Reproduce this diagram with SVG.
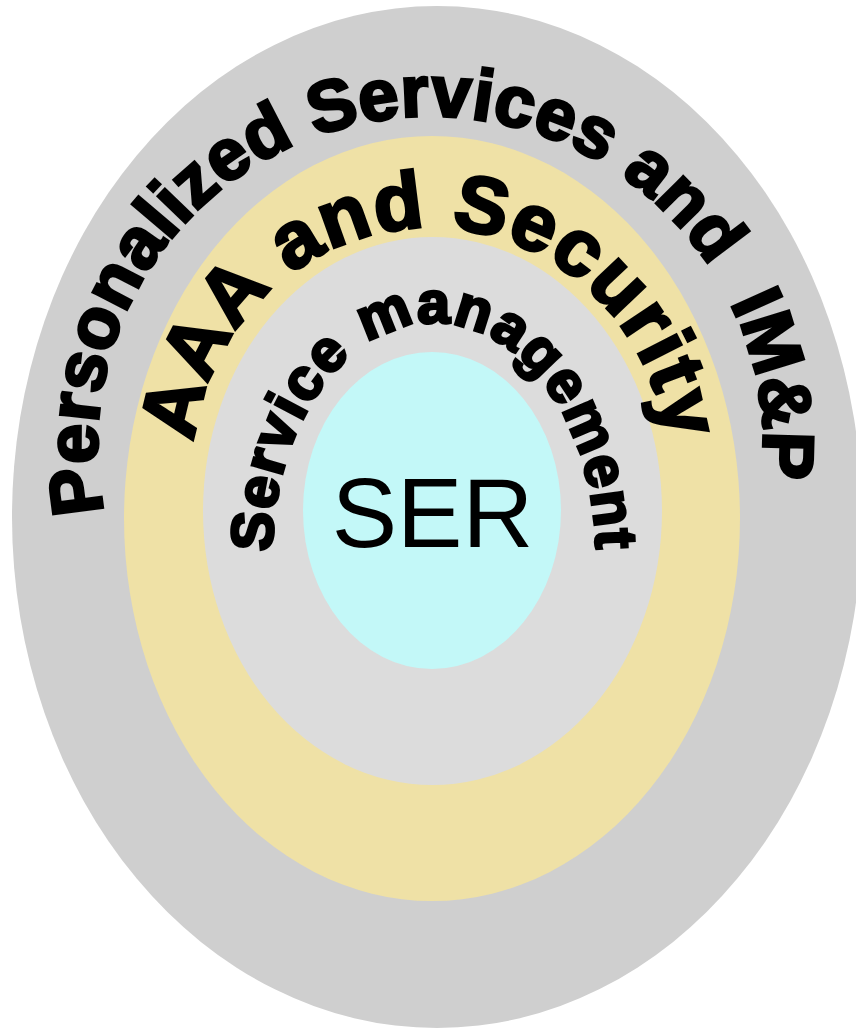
<svg xmlns="http://www.w3.org/2000/svg" xmlns:xlink="http://www.w3.org/1999/xlink" width="856" height="1029" viewBox="0 0 856 1029">
  <style>
    .arc-label { font-family: "Liberation Sans", Arial, sans-serif; font-weight: bold; fill: #000; stroke: #000; stroke-width: 3; stroke-linejoin: miter; }
    .core-label { font-family: "Liberation Sans", Arial, Helvetica, sans-serif; fill: #000; }
  </style>
  <defs>
    <!-- baselines the ring titles run along -->
    <path id="path-outer" d="M 104 512 A 333 330 0 1 1 761 485" fill="none"/>
    <path id="path-aaa" d="M 194 442 A 238 245 0 0 1 666 440" fill="none"/>
    <path id="path-service" d="M 272 552 A 162 232 0 0 1 596 558" fill="none"/>
  </defs>

  <rect width="856" height="1029" fill="#ffffff"/>

  <g id="ring-personalized">
    <ellipse cx="437" cy="517" rx="425" ry="511" fill="#cfcfcf"/>
  </g>
  <g id="ring-aaa">
    <ellipse cx="432" cy="518.5" rx="308" ry="382.5" fill="#efe1a6"/>
  </g>
  <g id="ring-service">
    <ellipse cx="432.5" cy="511" rx="229.5" ry="274" fill="#dcdcdc"/>
  </g>
  <g id="core-ser">
    <ellipse cx="432" cy="510.5" rx="129" ry="158.5" fill="#c3f8f8"/>
    <text class="core-label" x="432.5" y="547" font-size="98" text-anchor="middle">SER</text>
  </g>

  <g id="ring-labels">
    <text class="arc-label" font-size="72"><textPath xlink:href="#path-outer" href="#path-outer" textLength="1140" lengthAdjust="spacing">Personalized Services and &#160;IM&amp;P</textPath></text>
    <text class="arc-label" font-size="80"><textPath xlink:href="#path-aaa" href="#path-aaa" textLength="695" lengthAdjust="spacing">AAA and Security</textPath></text>
    <text class="arc-label" font-size="59"><textPath xlink:href="#path-service" href="#path-service" textLength="615" lengthAdjust="spacing">Service management</textPath></text>
  </g>
</svg>
